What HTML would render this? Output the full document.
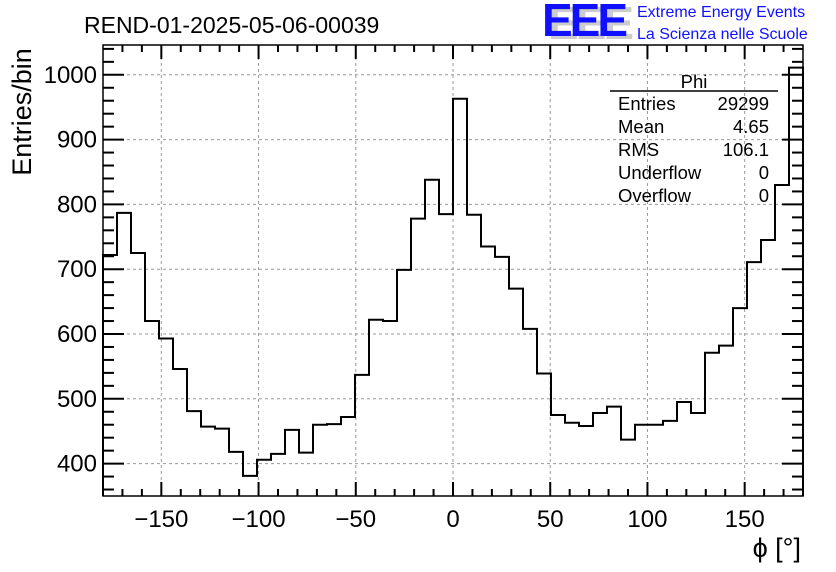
<!DOCTYPE html>
<html><head><meta charset="utf-8"><style>
body{margin:0;background:#fff}
svg{display:block;font-family:"Liberation Sans",sans-serif}
</style></head><body>
<svg id="c" width="836" height="572">
<text x="84" y="33" font-size="23">REND-01-2025-05-06-00039</text>
<g>
<text x="548" y="39" font-size="46" fill="#ccc" font-weight="bold" letter-spacing="-3">EEE</text>
<text x="542" y="36" font-size="46" fill="#1010ff" font-weight="bold" letter-spacing="-3">EEE</text>
<text x="637" y="17" font-size="16" fill="#1010ff">Extreme Energy Events</text>
<text x="637" y="39" font-size="16" fill="#1010ff">La Scienza nelle Scuole</text>
</g>
<g id="grid"></g>
<g id="axes"></g>
<path id="hist" fill="none" stroke="#000" stroke-width="2"/>
<rect x="103" y="45" width="700" height="451" fill="none" stroke="#000" stroke-width="1.5"/>
<g font-size="18.5">
<text x="694" y="88" text-anchor="middle">Phi</text>
<line x1="610" y1="91" x2="778" y2="91" stroke="#000" stroke-width="1.5"/>
<text x="618" y="110">Entries</text><text x="769" y="110" text-anchor="end">29299</text>
<text x="618" y="133">Mean</text><text x="769" y="133" text-anchor="end">4.65</text>
<text x="618" y="156">RMS</text><text x="769" y="156" text-anchor="end">106.1</text>
<text x="618" y="179">Underflow</text><text x="769" y="179" text-anchor="end">0</text>
<text x="618" y="202">Overflow</text><text x="769" y="202" text-anchor="end">0</text>
</g>
<text x="31" y="112" font-size="27" transform="rotate(-90 31 112)" text-anchor="middle">Entries/bin</text>
<text x="801" y="557" font-size="27" text-anchor="end">ϕ [°]</text>
</svg>
<script>
const counts=[722,787,725,620,593,546,481,457,454,418,381,406,415,452,417,460,461,472,537,622,620,699,778,838,785,963,784,735,719,670,608,539,475,463,458,478,488,437,460,460,466,495,478,571,582,640,711,745,830,1011];
const xTicks=[-150,-100,-50,0,50,100,150];
const yTicks=[400,500,600,700,800,900,1000];
const xMin=-180,xMax=180,yMin=350,yMax=1046;
const L=103,R=803,T=45,B=496;
const sx=v=>L+(v-xMin)/(xMax-xMin)*(R-L);
const sy=v=>B-(v-yMin)/(yMax-yMin)*(B-T);
const NS="http://www.w3.org/2000/svg";
const grid=document.getElementById('grid'),axes=document.getElementById('axes');
function mk(tag,at,parent){const e=document.createElementNS(NS,tag);for(const k in at)e.setAttribute(k,at[k]);parent.appendChild(e);return e;}
xTicks.forEach(t=>{const x=sx(t);
 const g=mk('line',{x1:x,x2:x,y1:T,y2:B,stroke:'#999','stroke-dasharray':'3,3'},grid);
 
 
 mk('line',{x1:x,x2:x,y1:B,y2:B-14,stroke:'#000','stroke-width':2},axes);
 mk('line',{x1:x,x2:x,y1:T,y2:T+14,stroke:'#000','stroke-width':2},axes);
 const tx=mk('text',{x:x,y:B+31,'font-size':24,'text-anchor':'middle'},axes);tx.textContent=(t<0?'\u2212'+(-t):t);
 
 
});
for(let t=-170;t<=170;t+=10){if(t%50===0)continue;const x=sx(t);
 mk('line',{x1:x,x2:x,y1:B,y2:B-7,stroke:'#000','stroke-width':2},axes);
 mk('line',{x1:x,x2:x,y1:T,y2:T+7,stroke:'#000','stroke-width':2},axes);}
yTicks.forEach(t=>{const y=sy(t);
 const g=mk('line',{x1:L,x2:R,y1:y,y2:y,stroke:'#999','stroke-dasharray':'3,3'},grid);
 
 
 const tx=mk('text',{x:L-6,y:y+8,'font-size':24,'text-anchor':'end'},axes);tx.textContent=t;
 
 
});
for(let t=360;t<=1040;t+=20){const y=sy(t);const len=t%100===0?21:11;
 mk('line',{x1:L,x2:L+len,y1:y,y2:y,stroke:'#000','stroke-width':2},axes);
 mk('line',{x1:R,x2:R-len,y1:y,y2:y,stroke:'#000','stroke-width':2},axes);}
const w=(xMax-xMin)/counts.length;
let d='M'+sx(xMin)+','+B;
counts.forEach((c,i)=>{d+=' L'+sx(xMin+i*w)+','+sy(c)+' L'+sx(xMin+(i+1)*w)+','+sy(c);});
d+=' L'+sx(xMax)+','+B;
document.getElementById('hist').setAttribute('d',d);
</script>
</body></html>
